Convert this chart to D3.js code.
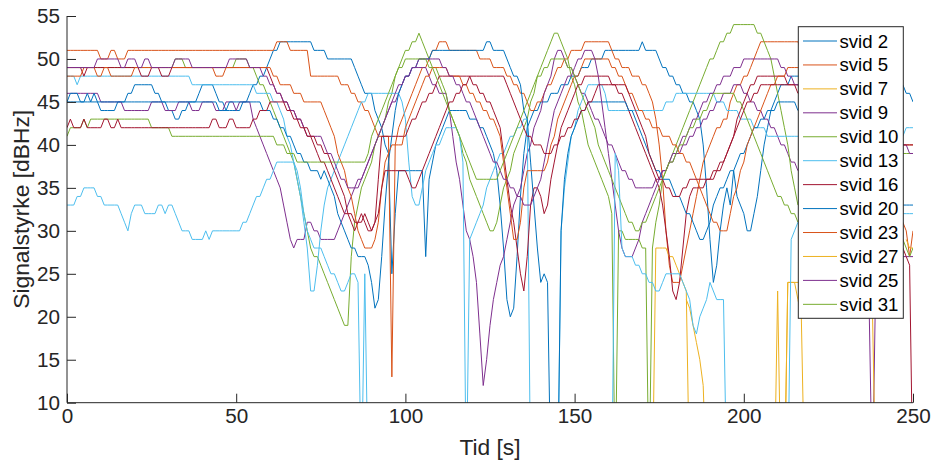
<!DOCTYPE html>
<html><head><meta charset="utf-8">
<script src="https://cdn.jsdelivr.net/npm/d3@7"></script>
<style>
body{margin:0;background:#fff;}
svg{display:block;font-family:"Liberation Sans",Arial,Helvetica,sans-serif;}
</style></head><body>
<svg id="chart" width="933" height="467"></svg>
<script>
// ---- tick labels / categories ----
const timeTicks = [0, 50, 100, 150, 200, 250];
const valueTicks = [10, 15, 20, 25, 30, 35, 40, 45, 50, 55];
const xLabel = "Tid [s]";
const yLabel = "Signalstyrke [dBHz]";
const legendNames = ["svid 2","svid 5","svid 7","svid 9","svid 10","svid 13","svid 16","svid 20","svid 23","svid 27","svid 25","svid 31"];
const palette = ["#0072BD","#D95319","#EDB120","#7E2F8E","#77AC30","#4DBEEE","#A2142F"];

// ---- series values: signal [dBHz] sampled once per second, from the series' start second; 0 = signal lost ----
const svid2 = [
45,45,45,45,45,45,45,45,45,45, 44,44,44,44,44,45,45,45,46,46, 47,47,47,47,47,47,46,46,45,45, 44,44,43,43,44,44,45,45,45,46,
47,47,47,47,46,45,45,44,44,44, 44,44,45,45,46,47,47,48,48,49, 50,51,51,52,52,52,52,52,52,52, 52,52,52,51,51,51,51,50,50,50,
50,50,50,50,50,49,48,47,46,46, 46,44,43,42,40,39,25,32,37,37, 37,37,37,37,37,37,27,36,38,40, 41,42,43,44,44,44,44,44,44,43,
43,43,42,42,41,40,39,37,33,28, 22,20,21,27,34,39,42,43,44,44, 45,45,45,46,46,46,47,47,47,48, 48,48,49,49,49,50,50,50,50,51,
51,51,51,51,51,51,51,51,51,51, 52,51,51,51,51,50,49,49,48,48, 47,47,46,46,45,45,44,43,40,35, 29,24,26,30,33,35,33,37,34,33,
32,30,30,32,34,37,40,42,44,45, 46,47,47,47,48,48,48,48,48,48, 48,47,47,47,47,47,47,47,47,47, 47,47,47,47,47,47,47,47,47,47,
47,47,47,47,47,47,47,47,46,46, 45];
const svid5 = [
51,51,51,51,51,51,51,51,51,51, 50,50,50,51,51,50,50,50,51,51, 51,51,51,51,51,51,51,51,51,51, 51,51,51,51,51,51,51,51,51,51,
51,51,51,51,51,51,51,51,51,51, 51,51,51,51,51,51,51,51,51,51, 51,51,52,52,52,52,51,51,51,51, 51,51,48,48,48,48,48,48,48,48,
48,47,47,47,46,46,45,45,44,44, 43,42,41,41,41,41,13,40,42,43, 44,45,46,47,48,49,49,50,51,51, 52,52,52,51,51,51,51,51,51,51,
51,51,50,50,50,50,49,49,49,49, 48,48,47,47,46,46,45,44,44,45, 45,46,47,47,48,49,49,50,50,51, 51,51,51,52,52,52,52,52,52,52,
52,51,50,50,49,49,49,48,48,48, 47,47,46,45,43,40,36,30,26,24, 24,24,26,28,30,32,34,36,38,39, 40,41,42,42,43,43,45,46,47,47,
48,48,49,50,51,52,52,52,52,52, 52,52,52,52,52,52,52,51,51,51, 51,50,49,48,47,46,45,44,43,42, 41,40,39,38,37,36,35,35,34,34,
33,33,33,32,32,32,31,31,30,27, 30];
const svid7 = [
0,28,28,28,28,27,27,26,25,24, 23,0,0,0,0,0,0,0,0,0, 0,0,0,0,0,0,0,0,0,0, 0,0,0,0,0,0,0,23,0,0, 24,24,24,22,20,0];
const svid9 = [
46,46,46,46,46,46,46,46,46,46, 45,45,45,45,45,45,45,44,44,44, 44,44,44,44,44,45,45,45,45,44, 44,44,44,45,45,45,45,44,44,44,
45,45,45,45,44,44,44,45,45,45, 44,45,45,45,45,43,42,41,40,39, 38,37,36,35,33,31,29,28,29,29, 29,31,31,30,30,29,29,29,29,29,
30,31,32,33,34,35,36,36,37,38, 39,40,41,42,43,44,45,45,46,47, 48,48,49,49,49,49,49,48,47,47, 46,46,46,44,41,38,36,33,30,29,
27,24,18,12,15,19,22,24,26,27, 29,31,33,34,35,37,39,40,42,43, 44,46,47,48,50,51,51,50,49,49, 48,47,46,46,45,44,43,43,42,41,
40,40,39,38,37,37,36,36,35,35, 35,35,35,35,36,36,37,37,38,38, 39,39,40,40,41,41,42,42,43,43, 44,44,45,45,46,46,46,47,47,47,
46,46,45,45,44,44,43,43,42,42, 41,40,40,39,38,38,37,37,36,36, 35,35,34,34,33,33,32,32,31,31, 30,29,28,27,26,25,23,22,0,25,
25,25,26,26,26,26,27,27,27,27, 27];
const svid10 = [
49,49,49,49,49,49,49,49,49,49, 49,49,49,49,49,49,49,49,49,49, 49,49,49,49,49,49,49,49,49,49, 49,49,50,50,50,49,49,49,49,49,
49,49,49,49,49,49,49,49,49,49, 50,50,50,50,49,49,48,47,47,46, 45,44,43,42,41,40,39,38,36,34, 32,30,28,27,27,26,25,24,23,22,
21,20,19,19,27,31,33,35,36,37, 38,40,41,42,43,45,46,48,49,50, 51,51,52,52,53,52,51,50,49,49, 48,47,46,44,43,42,41,39,38,36,
35,34,33,32,31,30,30,31,33,35, 36,37,39,40,41,42,43,45,46,48, 49,50,51,52,53,53,52,51,50,48, 47,45,44,42,40,39,38,37,36,35,
34,32,0,30,30,29,29,29,29,29, 28,28,0,28,31,33,36,37,38,39, 40,41,42,43,44,45,46,47,48,49, 50,50,51,52,52,53,53,54,54,54,
54,54,54,54,53,53,52,51,50,48, 46,44,42,40,37,35,33,33,33,33, 33,33,34,34,34,35,35,35,35,36, 36,36,36,37,37,37,37,38,38,38,
38,38,38,39,39,39,39,39,39,39, 39];
const svid13 = [
48,48,48,47,48,48,48,48,48,48, 48,48,48,48,48,48,48,48,48,48, 48,48,48,48,48,48,48,48,48,48, 48,48,48,48,48,48,48,47,47,47,
47,47,47,47,47,47,47,47,47,47, 47,47,47,47,47,47,46,46,46,46, 46,45,45,44,43,41,40,38,36,34, 31,28,23,23,26,30,33,35,36,37,
38,39,40,41,42,43,44,45,45,46, 46,46,46,46,46,46,46,46,46,45, 43,38,34,33,33,35,37,38,39,40, 40,41,42,42,42,42,41,38,0,29,
30,31,32,33,35,36,37,38,39,39, 40,41,41,42,42,43,43,0,0,0, 0,0,0,0,0,0,30,35,38,41, 42,44,45,46,47,47,47,47,47,46,
44,44,44,44,44,44,44,44,44,44, 44,44,44,44,44,44,44,45,45,45, 46,46,46,46,46,46,46,46,46,46, 46,46,45,45,45,44,44,44,44,43,
43,43,43,42,42,42,42,41,41,41, 41,41,41,41,41,41,41,41,41,41, 41,41,41,41,41,41,41,41,41,41, 41,41,41,41,41,41,41,41,41,41,
41,41,41,41,41,41,41,41,42,42, 42];
const svid16 = [
49,49,49,49,49,48,49,49,49,49, 49,49,49,49,49,49,49,49,49,49, 49,49,48,48,48,49,49,49,48,48, 48,49,49,49,49,49,49,49,49,49,
49,49,49,49,49,49,49,49,49,49, 49,49,49,49,49,49,49,49,49,49, 48,47,46,46,45,45,44,44,43,43, 42,42,41,40,39,38,38,37,36,35,
34,33,32,32,31,30,31,31,32,31, 30,31,36,41,41,41,41,41,41,41, 41,42,43,43,44,45,45,46,46,47, 48,48,48,48,48,48,48,48,48,48,
47,47,46,46,45,45,44,43,42,39, 36,33,31,28,25,23,27,33,35,35, 34,32,33,36,38,40,42,43,44,45, 46,47,47,48,48,48,48,48,48,48,
48,47,47,46,46,45,44,43,42,41, 40,39,38,37,36,35,33,30,27,23, 22,24,28,32,34,35,35,35,35,36, 36,37,37,38,38,39,40,41,43,44,
45,46,47,47,48,48,48,48,48,48, 48,48,48,47,47,47,47,46,46,45, 45,44,43,43,42,41,41,40,39,39, 38,37,36,36,35,34,33,33,32,31,
31,30,30,29,29,29,28,28,27,26, 0];
const svid20 = [
45,46,46,46,45,45,46,45,46,45, 45,45,45,45,45,45,45,45,45,45, 45,45,45,45,45,45,45,45,45,45, 45,45,45,45,45,45,45,45,45,45,
45,45,45,45,45,44,44,44,45,45, 45,45,45,45,45,45,45,45,44,44, 44,43,43,42,42,41,41,40,39,39, 38,38,37,37,37,36,37,36,35,34,
32,31,30,29,28,28,27,27,27,26, 24,21,22,27,33,38,41,44,46,47, 48,48,49,49,50,50,50,50,51,51, 51,51,51,51,51,51,51,51,51,51,
51,51,51,51,52,52,51,51,51,51, 50,49,48,48,47,44,43,38,33,28, 24,25,24,0,0,0,30,36,39,41, 42,43,44,44,45,45,45,45,45,45,
45,45,45,45,45,45,44,44,43,42, 41,40,39,38,37,37,36,36,36,35, 34,34,33,32,32,31,30,29,29,30, 31,33,34,35,35,36,37,37,38,39,
39,40,41,42,42,43,43,44,44,44, 45,45,45,45,45,45,44,44,44,44, 43,43,42,42,41,41,40,40,39,39, 38,38,37,37,36,36,35,35,35,34,
34,34,34,34,33,33,33,33,33,33, 33];
const svid23 = [
48,48,48,48,48,49,49,49,49,48, 48,49,49,48,48,48,48,48,48,48, 49,49,49,49,49,49,49,49,49,49, 49,49,49,49,49,49,49,49,49,49,
49,49,49,49,48,48,48,49,49,49, 49,49,49,49,49,49,49,49,49,49, 49,48,48,47,47,47,47,46,46,46, 45,45,45,45,45,45,44,43,42,41,
39,38,37,35,34,32,30,29,28,28, 28,29,31,35,38,39,40,40,40,40, 42,43,44,45,46,47,48,48,49,49, 49,49,49,48,48,48,48,47,47,46,
46,45,45,44,44,43,43,42,41,38, 35,32,29,29,31,35,37,37,37,37, 37,37,38,40,41,43,44,45,46,47, 48,48,49,50,50,50,50,50,50,50,
50,49,49,48,48,47,46,46,45,44, 44,43,43,42,42,42,41,41,41,40, 40,39,39,38,38,37,36,35,34,33, 32,31,31,30,30,30,32,34,35,37,
38,40,41,42,43,44,45,46,47,47, 48,48,48,49,49,49,49,49,49,48, 48,48,48,47,47,47,46,46,46,45, 45,45,44,44,44,43,43,43,42,42,
42,42,41,41,41,41,41,40,40,40, 40];
const svid27 = [
22,21,19,17,15,12,0,0,0,0, 0,0,0,0,0,0,0,0,0,0, 0,0,0,0,0,0,0,0,0,0, 24,24,24,24,24,24,24,24,24,25,
25,25,25,25,25,25,25,25,24,24, 24,24,24,24,24,21,0,null,null,null, null,null,null,null,null,29,28,28];
const svid25 = [
49,49,49,49,49,49,49,49,49,50, 50,50,50,50,50,50,49,49,50,50, 50,49,49,50,50,49,49,49,49,49, 49,49,50,50,50,50,50,49,49,49,
49,49,49,49,49,49,49,49,50,50, 50,50,50,50,49,49,49,49,48,48, 47,47,46,46,45,45,44,44,43,43, 42,41,41,41,41,41,40,39,39,38,
37,36,36,35,35,35,35,36,37,38, 39,40,41,42,43,44,45,46,47,47, 48,48,49,49,50,50,50,50,50,50, 50,49,49,48,48,47,47,46,45,45,
44,43,42,41,40,39,38,38,37,36, 36,35,35,34,34,33,33,33,34,35, 36,38,40,42,44,45,46,47,48,48, 49,50,50,51,51,51,50,48,45,42,
39,36,33,30,28,27,27,27,28,29, 31,32,33,34,35,36,37,37,38,39, 39,40,41,41,42,43,43,44,45,45, 46,46,47,47,48,48,48,49,49,49,
50,50,50,50,50,50,50,50,50,50, 50,49,49,48,48,47,47,47,46,46, 46,45,45,45,44,44,44,43,43,43, 43,42,42,42,42,41,41,41,41,41,
41,41,40,40,40,40,40,40,40,39, 39];
const svid31 = [
41,42,42,42,42,43,42,43,43,43, 43,43,43,43,43,43,43,43,43,43, 43,43,43,43,43,42,42,42,42,42, 42,41,41,41,41,41,41,41,41,41,
41,41,41,41,41,41,41,41,41,41, 41,41,41,41,41,41,41,41,41,41, 41,41,40,40,40,39,39,39,38,38, 38,38,38,38,38,38,38,38,38,38,
38,38,38,38,38,38,38,38,38,39, 41,42,43,44,45,46,47,48,49,49, 50,50,50,50,50,50,50,49,49,48, 47,46,45,44,43,42,41,40,39,38,
37,36,36,36,36,36,36,36,37,38, 39,40,41,42,43,44,45,46,47,48, 48,49,49,50,50,50,50,50,49,49, 48,47,46,45,44,43,42,40,39,38,
37,36,35,34,33,32,31,31,30,30, 31,31,32,33,34,35,36,37,38,38, 39,40,40,41,42,42,43,43,44,44, 45,46,46,46,46,46,46,46,45,45,
44,43,42,41,40,39,38,37,36,35, 34,34,33,33,32,32,31,31,31,31, 30,30,30,30,30,30,30,30,30,30, 29,29,29,29,29,29,29,29,29,29,
29,29,29,29,29,29,29,29,28,27, 28];
// two further tracked satellites, drawn but not named in the legend
const extraCyan = [
33,33,33,34,34,35,35,35,35,34, 34,33,33,33,33,33,32,31,30,32, 33,33,33,32,32,32,32,33,33,32, 33,33,32,31,30,30,30,29,29,29,
29,30,29,30,30,30,30,30,30,30, 30,30,31,31,32,33,34,34,35,36, 36,37,38,38,38,38,38,38,37,35, 32,30,29,28,28,28,27,26,25,25,
24,23,23,24,25,25,24,0,25,0, 0,0,0,0,0,0,0,0,0,0, 0,0,0,0,0,0,0,0,0,0, 0,0,0,0,0,0,0,0,0,0,
0,0,0,0,0,0,0,0,0,0, 0,0,0,0,0,0,0,0,0,0, 0,0,0,0,0,0,0,0,0,0, 0,0,0,0,0,0,0,0,0,0,
0,0,39,37,28,27,27,27,26,26, 25,25,24,24,23,23,24,25,25,25, 25,25,24,23,22,19,18,20,21,22, 24,23,22,22,22,0,0,0,0,0,
0,0,0,0,0,0,0,0,0,0, 0,0,0,0,29,30,31,31,31,31, 31,31,31,31,31,31,31,31,31,31, 31,31,32,32,32,32,32,32,32,32,
32,32,32,32,32,32,32,32,32,32, 32];
const extraRed = [
42,43,42,42,42,43,42,42,42,42, 42,43,43,42,42,43,42,42,42,42, 42,42,42,42,42,42,42,42,42,42, 42,42,42,42,42,42,42,42,42,42,
42,42,42,43,43,42,42,42,43,43, 42,42,42,42,42,43,43,44,44,44, 45,45,45,45,45,44,44,43,43,42, 42,41,41,41,40,40,39,39,38,37,
36,35,34,32,32,31,31,32,31,30, 30,31,32,35,37,37,37,37,37,37, 37,36,35,35,36,37,38,39,40,41, 42,43,44,45,45,46,46,47,47,48,
48,48,48,48,48,48,48,48,48,48, 47,46,45,44,43,42,41,41,40,40, 40,39,39,39,40,40,41,41,42,42, 43,43,44,44,45,45,46,47,47,47,
47,47,47,47,47,47,46,45,44,43, 42,41,39,38,37,36,36,35,35,34, 34,34,35,35,36,36,36,36,36,36, 36,36,37,37,38,39,40,41,42,43,
44,45,45,46,46,47,47,47,47,47, 47,47,47,47,47,47,46,46,46,46, 45,45,45,44,44,44,43,43,43,43, 42,42,42,42,42,41,41,41,41,41,
41,41,41,40,40,40,40,40,40,40, 40];

// draw order (MATLAB colour order repeats after seven lines)
const seriesValues = [svid2, svid5, svid7, svid9, svid10, svid13, svid16, svid20, svid23, svid27, svid25, svid31, extraCyan, extraRed];
const seriesStart  = [0, 0, 173, 0, 0, 0, 0, 0, 0, 183, 0, 0, 0, 0];

// ---- drawing ----
const svg = d3.select("#chart");
const W = 933, H = 467;
const plot = {left: 67, right: 913, top: 16, bottom: 402.7};
const x = d3.scaleLinear().domain([0, 250]).range([plot.left, plot.right]);
const y = d3.scaleLinear().domain([10, 55]).range([plot.bottom, plot.top]);
const ink = "#262626";

svg.append("rect").attr("width", W).attr("height", H).attr("fill", "#fff");

svg.append("defs").append("clipPath").attr("id", "clip")
  .append("rect").attr("x", plot.left).attr("y", plot.top)
  .attr("width", plot.right - plot.left).attr("height", plot.bottom - plot.top);

const g = svg.append("g").attr("clip-path", "url(#clip)");
seriesValues.forEach((vals, k) => {
  const t0 = seriesStart[k];
  const line = d3.line()
    .defined(v => v !== null)
    .x((v, i) => x(t0 + i))
    .y(v => y(v));
  g.append("path").datum(vals)
    .attr("fill", "none")
    .attr("stroke", palette[k % palette.length])
    .attr("stroke-width", 1)
    .attr("stroke-linejoin", "round")
    .attr("d", line);
});

// axes
const yAxis = d3.axisLeft(y).tickValues(valueTicks).tickSize(-9).tickPadding(7).tickFormat(d3.format("d"));
const xAxis = d3.axisBottom(x).tickValues(timeTicks).tickSize(-9).tickPadding(5.5).tickFormat(d3.format("d"));

const ya = svg.append("g").attr("transform", `translate(${plot.left},0)`).call(yAxis);
const xa = svg.append("g").attr("transform", `translate(0,${plot.bottom})`).call(xAxis);
[ya, xa].forEach(a => {
  a.select(".domain").attr("stroke", ink).attr("stroke-width", 1);
  a.selectAll(".tick line").attr("stroke", ink).attr("stroke-width", 1);
  a.selectAll(".tick text").attr("fill", ink).style("font-size", "20.7px")
    .style("font-family", '"Liberation Sans",Arial,Helvetica,sans-serif');
});
ya.select(".domain").attr("d", `M0,${plot.bottom}V${plot.top}`);
xa.select(".domain").attr("d", `M${plot.left},0H${plot.right}`);

svg.append("text").attr("x", (plot.left + plot.right) / 2).attr("y", 455)
  .attr("text-anchor", "middle").attr("fill", ink).style("font-size", "22.8px").text(xLabel);
svg.append("text").attr("transform", `translate(29,${(plot.top + plot.bottom) / 2}) rotate(-90)`)
  .attr("text-anchor", "middle").attr("fill", ink).style("font-size", "22.8px").text(yLabel);

// legend
const lg = svg.append("g");
const lx = 798.3, ly = 26.7, lw = 105, lh = 291.6, rowH = 23.94;
lg.append("rect").attr("x", lx).attr("y", ly).attr("width", lw).attr("height", lh)
  .attr("fill", "#fff").attr("stroke", ink).attr("stroke-width", 1);
legendNames.forEach((n, i) => {
  const yy = 41 + i * rowH;
  lg.append("line").attr("x1", 803).attr("x2", 837).attr("y1", yy).attr("y2", yy)
    .attr("stroke", palette[i % palette.length]).attr("stroke-width", 1);
  lg.append("text").attr("x", 839.5).attr("y", yy).attr("dy", "0.35em")
    .attr("fill", "#000").style("font-size", "18.6px").text(n);
});
</script>
</body></html>
